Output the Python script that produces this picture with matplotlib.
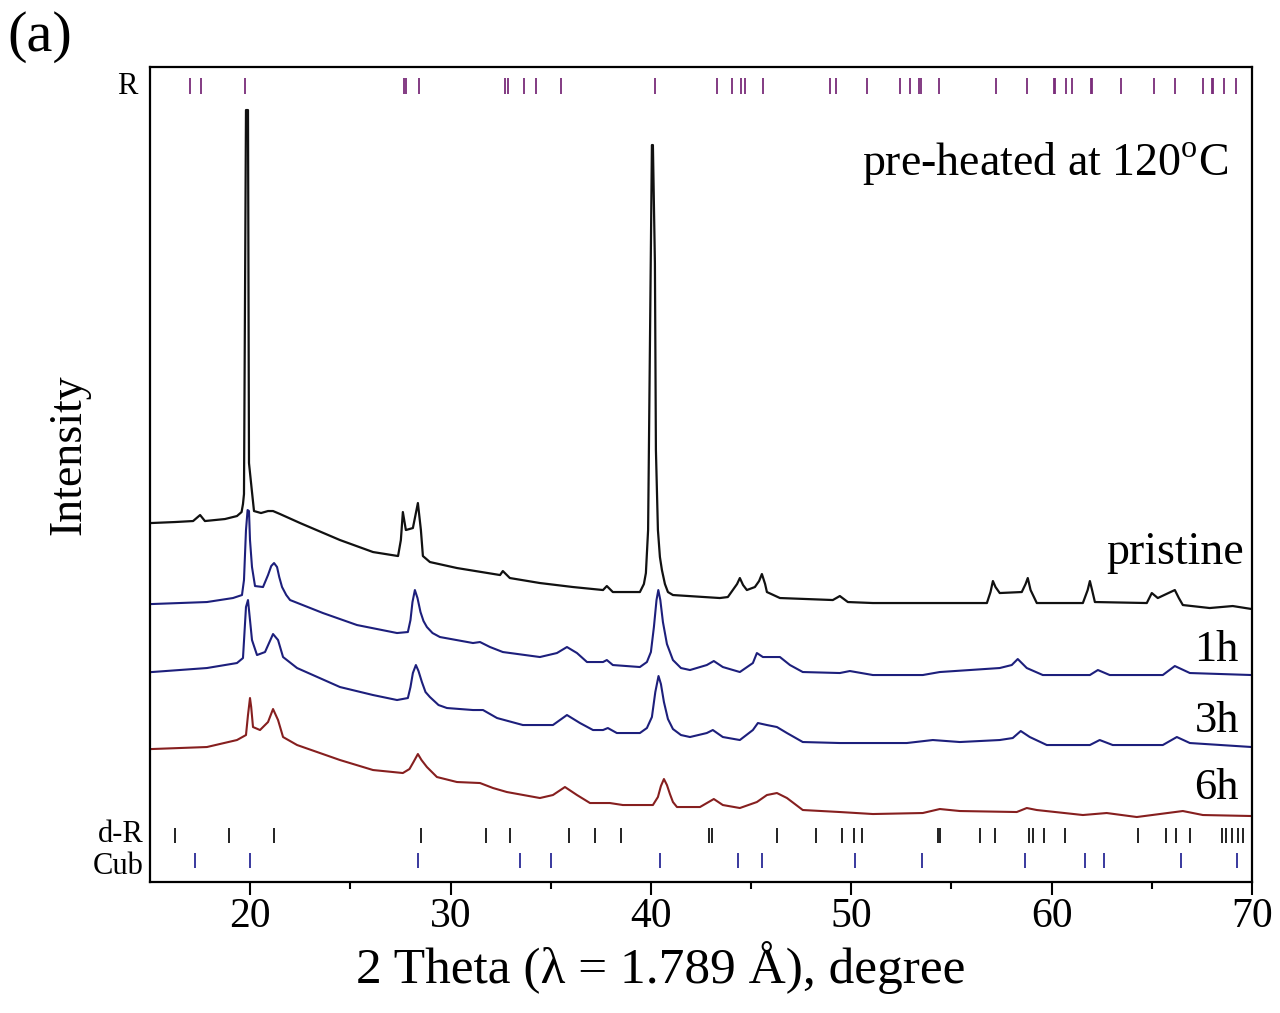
import numpy as np
import matplotlib
matplotlib.use('Agg')
import matplotlib.pyplot as plt
import matplotlib.transforms as mtransforms

plt.rcParams['font.family'] = ['Liberation Serif', 'DejaVu Serif']
plt.rcParams['mathtext.fontset'] = 'custom'
plt.rcParams['mathtext.rm'] = 'Liberation Serif'

# XRD patterns, 2 theta (deg) and intensity (a.u., offset stacked)
pristine_tt = [15.05, 16.25, 17.15, 17.50, 17.74, 18.74, 19.34, 19.57, 19.64, 19.69,
               19.79, 19.89, 19.94, 20.09, 20.19, 20.54, 20.89, 21.14, 21.49, 22.49,
               24.48, 26.13, 27.38, 27.52, 27.62, 27.77, 28.12, 28.37, 28.52, 28.62,
               28.97, 30.32, 32.47, 32.61, 32.96, 34.46, 36.11, 37.61, 37.80, 38.10,
               39.45, 39.65, 39.75, 39.86, 39.90, 40.05, 40.10, 40.20, 40.25, 40.35,
               40.45, 40.55, 40.70, 40.85, 41.10, 43.44, 43.84, 44.30, 44.44, 44.60,
               44.79, 45.19, 45.40, 45.54, 45.70, 45.79, 46.44,
               49.08, 49.43, 49.83, 51.08, 55.42, 56.77, 56.95, 57.07, 57.20, 57.41,
               58.51, 58.70, 58.81, 58.95, 59.26, 61.56, 61.80, 61.91, 62.02, 62.16,
               64.75, 65.00, 65.30, 66.15, 66.35, 66.55, 67.89, 69.04, 69.99]
pristine_int = [359, 360, 361, 367, 361, 363, 366, 370, 378, 388,
                772, 772, 419, 390, 371, 369, 371, 371, 368, 359,
                342, 330, 326, 342, 370, 352, 354, 379, 352, 326,
                320, 314, 307, 311, 304, 299, 295, 292, 296, 290,
                290, 298, 309, 352, 432, 737, 737, 619, 432, 352,
                325, 312, 298, 290, 287, 284, 285, 298, 304, 297,
                292, 295, 301, 308, 298, 290, 284,
                282, 286, 280, 279, 279, 279, 290, 301, 295, 289,
                290, 298, 304, 292, 279, 279, 292, 301, 292, 280,
                279, 289, 284, 292, 284, 277, 274, 276, 273]

h1_tt = [15.10, 17.84, 19.14, 19.59, 19.69, 19.79, 19.87, 19.94, 19.99, 20.09,
         20.24, 20.64, 20.89, 21.05, 21.19, 21.34, 21.45, 21.59, 21.80, 21.99,
         23.63, 25.33, 27.33, 27.87, 28.00, 28.10, 28.22, 28.35, 28.50, 28.65,
         28.82, 29.10, 29.47, 31.12, 31.47, 31.97, 32.61, 34.46, 35.31, 35.81,
         36.31, 36.81, 37.61, 37.80, 38.10, 39.45, 39.80, 40.00, 40.15, 40.28,
         40.37, 40.47, 40.60, 40.80, 41.10, 41.50, 41.95, 42.79, 43.14, 43.59,
         44.44, 45.09, 45.29, 45.59, 46.44, 46.94, 47.58, 49.43, 49.93, 51.08,
         53.57, 54.42, 57.41, 58.01, 58.31, 58.76, 59.56, 61.91, 62.31, 62.90,
         65.55, 66.15, 66.90, 69.99]
h1_int = [278, 280, 284, 287, 302, 352, 372, 371, 342, 315,
          296, 295, 307, 316, 319, 315, 305, 295, 287, 282,
          269, 257, 249, 250, 262, 280, 292, 284, 270, 261,
          255, 249, 245, 239, 240, 235, 230, 225, 229, 235,
          229, 220, 220, 222, 217, 215, 220, 230, 255, 282,
          292, 282, 260, 238, 222, 214, 212, 217, 221, 215,
          210, 219, 229, 225, 225, 217, 210, 209, 211, 207,
          207, 210, 214, 217, 223, 214, 207, 207, 212, 207,
          207, 216, 209, 207]

h3_tt = [15.10, 17.84, 19.34, 19.64, 19.79, 19.89, 19.99, 20.09, 20.34, 20.74,
         21.14, 21.39, 21.64, 22.34, 24.48, 26.13, 27.33, 27.87, 28.00, 28.12,
         28.27, 28.40, 28.57, 28.75, 28.97, 29.40, 29.82, 31.12, 31.62, 32.32,
         33.61, 35.11, 35.81, 36.46, 37.11, 37.61, 37.85, 38.30, 39.45, 39.80,
         40.05, 40.22, 40.38, 40.50, 40.65, 40.85, 41.10, 41.50, 41.95, 42.79,
         43.09, 43.59, 44.44, 45.09, 45.34, 45.79, 46.29, 46.79, 47.58, 49.43,
         52.77, 54.07, 55.42, 57.41, 58.06, 58.46, 58.91, 59.76, 61.91, 62.40,
         63.05, 65.55, 66.25, 66.90, 69.99]
h3_int = [210, 214, 219, 224, 275, 282, 262, 242, 227, 230,
          248, 242, 225, 214, 195, 187, 182, 184, 195, 209,
          217, 211, 200, 190, 185, 177, 174, 172, 172, 164,
          157, 157, 167, 159, 152, 152, 154, 149, 149, 154,
          165, 190, 206, 198, 180, 163, 153, 147, 145, 149,
          152, 145, 142, 152, 159, 157, 155, 149, 140, 139,
          139, 142, 140, 142, 144, 151, 145, 137, 137, 142,
          137, 137, 145, 139, 135]

h6_tt = [15.10, 17.84, 19.34, 19.79, 19.89, 19.99, 20.05, 20.14, 20.49, 20.89,
         21.14, 21.39, 21.64, 22.34, 24.48, 26.13, 27.62, 27.95, 28.15, 28.37,
         28.55, 28.82, 29.32, 30.32, 31.47, 32.12, 32.81, 34.46, 35.11, 35.71,
         36.31, 36.96, 37.95, 38.60, 40.10, 40.35, 40.50, 40.65, 40.80, 40.95,
         41.10, 41.30, 42.45, 43.14, 43.59, 44.44, 45.29, 45.79, 46.29, 46.79,
         47.58, 49.43, 51.08, 53.57, 54.42, 55.42, 58.26, 58.76, 59.26, 61.56,
         62.75, 64.25, 66.55, 67.55, 69.99]
h6_int = [133, 135, 142, 147, 167, 184, 175, 155, 152, 160,
          173, 162, 145, 137, 122, 112, 109, 113, 120, 128,
          122, 115, 105, 100, 99, 94, 90, 84, 87, 95,
          87, 79, 79, 77, 77, 85, 96, 103, 97, 88,
          80, 75, 75, 83, 77, 74, 80, 87, 89, 84,
          72, 70, 68, 69, 73, 71, 70, 74, 72, 67,
          69, 65, 71, 67, 66]

# reference reflection positions
r_pos = [16.98, 17.53, 19.76, 27.70, 27.80, 28.43, 32.72, 32.85, 33.66, 34.28,
         35.49, 40.20, 43.29, 44.07, 44.52, 44.72, 45.59, 48.95, 49.26, 50.77,
         52.42, 52.91, 53.40, 53.47, 54.37, 57.20, 58.76, 60.10, 60.18, 60.71,
         61.01, 61.95, 62.02, 63.44, 65.10, 66.17, 67.54, 68.00, 68.06, 68.61,
         69.20]
dr_pos = [16.27, 18.95, 21.19, 28.54, 31.75, 32.96, 35.93, 37.23, 38.52, 42.91,
          43.06, 46.28, 48.26, 49.55, 50.14, 50.54, 54.31, 54.45, 56.43, 57.18,
          58.87, 59.07, 59.62, 60.65, 64.32, 65.70, 66.20, 66.90, 68.48, 68.68,
          68.98, 69.28, 69.57]
cub_pos = [17.26, 19.97, 28.39, 33.47, 35.01, 40.47, 44.34, 45.54, 50.20, 53.51,
           58.67, 61.68, 62.59, 66.44, 69.23]

fig = plt.figure(figsize=(12.8, 10.13), dpi=100)
ax = fig.add_axes([0.1172, 0.1293, 0.8609, 0.8045])

# patterns
ax.plot(pristine_tt, pristine_int, color='#111111', lw=1.6)
ax.plot(h1_tt, h1_int, color='#1d1f7c', lw=1.5)
ax.plot(h3_tt, h3_int, color='#1d1f7c', lw=1.5)
ax.plot(h6_tt, h6_int, color='#861f1f', lw=1.5)

# reflection markers
ax.vlines(r_pos, 788, 804, color='#7a2c7a', lw=1.3)
ax.vlines(dr_pos, 39, 54, color='#111111', lw=1.3)
ax.vlines(cub_pos, 14, 29, color='#2a2a96', lw=1.3)

ax.set_xlim(15, 70)
ax.set_ylim(0, 815)
ax.set_yticks([])
ax.set_xticks([20, 30, 40, 50, 60, 70])
ax.set_xticks([25, 35, 45, 55, 65], minor=True)
ax.tick_params(axis='x', which='major', direction='out', length=9, width=1.5,
               labelsize=30, pad=2)
ax.tick_params(axis='x', which='minor', direction='out', length=5, width=1.5)
for sp in ax.spines.values():
    sp.set_linewidth(1.6)

ax.set_xlabel('2 Theta (λ = 1.789 Å), degree', fontsize=37)
ax.xaxis.set_label_coords(0.463, -0.073)
ax.set_ylabel('Intensity', fontsize=33)
ax.yaxis.set_label_coords(-0.054, 0.524)

# phase labels left of the frame
trans = mtransforms.blended_transform_factory(ax.transAxes, ax.transData)
ax.text(-0.011, 796, 'R', transform=trans, ha='right', va='center', fontsize=22)
ax.text(-0.006, 48, 'd-R', transform=trans, ha='right', va='center', fontsize=22)
ax.text(-0.006, 16, 'Cub', transform=trans, ha='right', va='center', fontsize=22)

# curve labels
ax.text(69.6, 329, 'pristine', ha='right', va='center', fontsize=33)
ax.text(69.35, 232, '1h', ha='right', va='center', fontsize=32)
ax.text(69.35, 161, '3h', ha='right', va='center', fontsize=32)
ax.text(69.35, 94, '6h', ha='right', va='center', fontsize=32)
ax.text(68.8, 719, 'pre-heated at 120$^{\\rm o}$C', ha='right', va='center', fontsize=33)

fig.text(0.006, 0.963, '(a)', ha='left', va='center', fontsize=42)

fig.savefig('out.png', dpi=100)
